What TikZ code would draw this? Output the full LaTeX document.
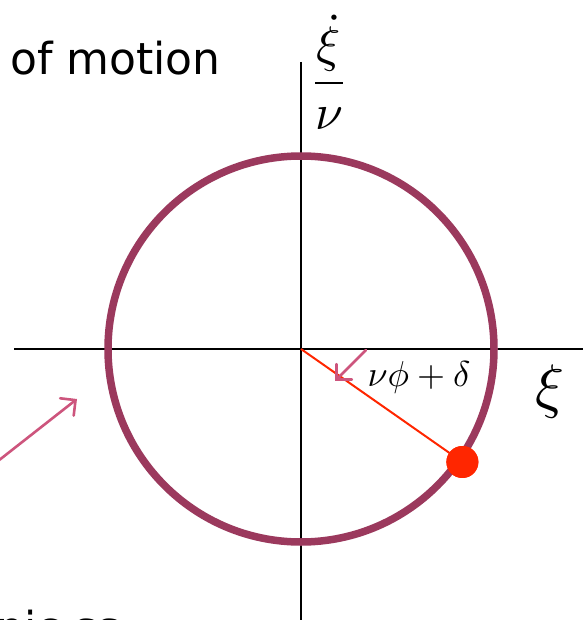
\documentclass[tikz,border=0pt]{standalone}
\usepackage{amsmath}
\usepackage{graphicx}
\usepackage{fontspec}
\setmainfont{DejaVu Sans}
\usetikzlibrary{arrows.meta,calc}
\definecolor{plum}{RGB}{155,57,93}
\definecolor{pinkarrow}{RGB}{205,85,125}
\definecolor{dotred}{RGB}{255,38,0}
\tikzset{
  axis/.style={line width=2pt, black},
  orbit/.style={line width=7.5pt, plum},
  pointer/.style={line width=2.6pt, pinkarrow, line cap=round, -{Straight Barb[length=11pt,width=22pt,line cap=round]}},
  radius line/.style={line width=2pt, dotred},
  bigtext/.style={inner sep=0, anchor=base west, font=\fontsize{44}{50}\selectfont}
}
\begin{document}
\begin{tikzpicture}[x=1pt,y=-1pt]
\useasboundingbox (0,0) rectangle (583,620);
\coordinate (O) at (301,349);
\coordinate (xl) at (14,349);
\coordinate (xr) at (583,349);
\coordinate (yt) at (301,62);
\coordinate (yb) at (301,625);
\draw[axis] (xl) -- (xr);
\draw[axis] (yt) -- (yb);
\draw[orbit] (O) circle (193pt);
\node[circle, fill=dotred, inner sep=0, minimum size=32pt] (P) at ($(O)+(-35:197pt)$) {};
\draw[radius line] (O) -- (P.center);
\node[circle, fill=dotred, inner sep=0, minimum size=32pt] at (P) {};
% labels
\node[bigtext] (title) at (10,75) {of motion};
\node[bigtext] (bottom) at (-4,643.5) {nic ss};
\node[inner sep=0] (frac) at (329,72) {\scalebox{5}{$\dfrac{\dot\xi}{\nu}$}};
\node[inner sep=0] (xi) at (550,391) {\scalebox{6}{$\xi$}};
\node[inner sep=0] (angle) at (419,377) {\scalebox{3.6}{$\nu\phi+\delta$}};
% pointers
\coordinate (a1s) at (366,350);
\coordinate (a1e) at (335,381);
\coordinate (a2s) at (-2,461);
\coordinate (a2e) at (77,399);
\draw[pointer] (a1s) -- (a1e);
\draw[pointer] (a2s) -- (a2e);
\end{tikzpicture}
\end{document}
